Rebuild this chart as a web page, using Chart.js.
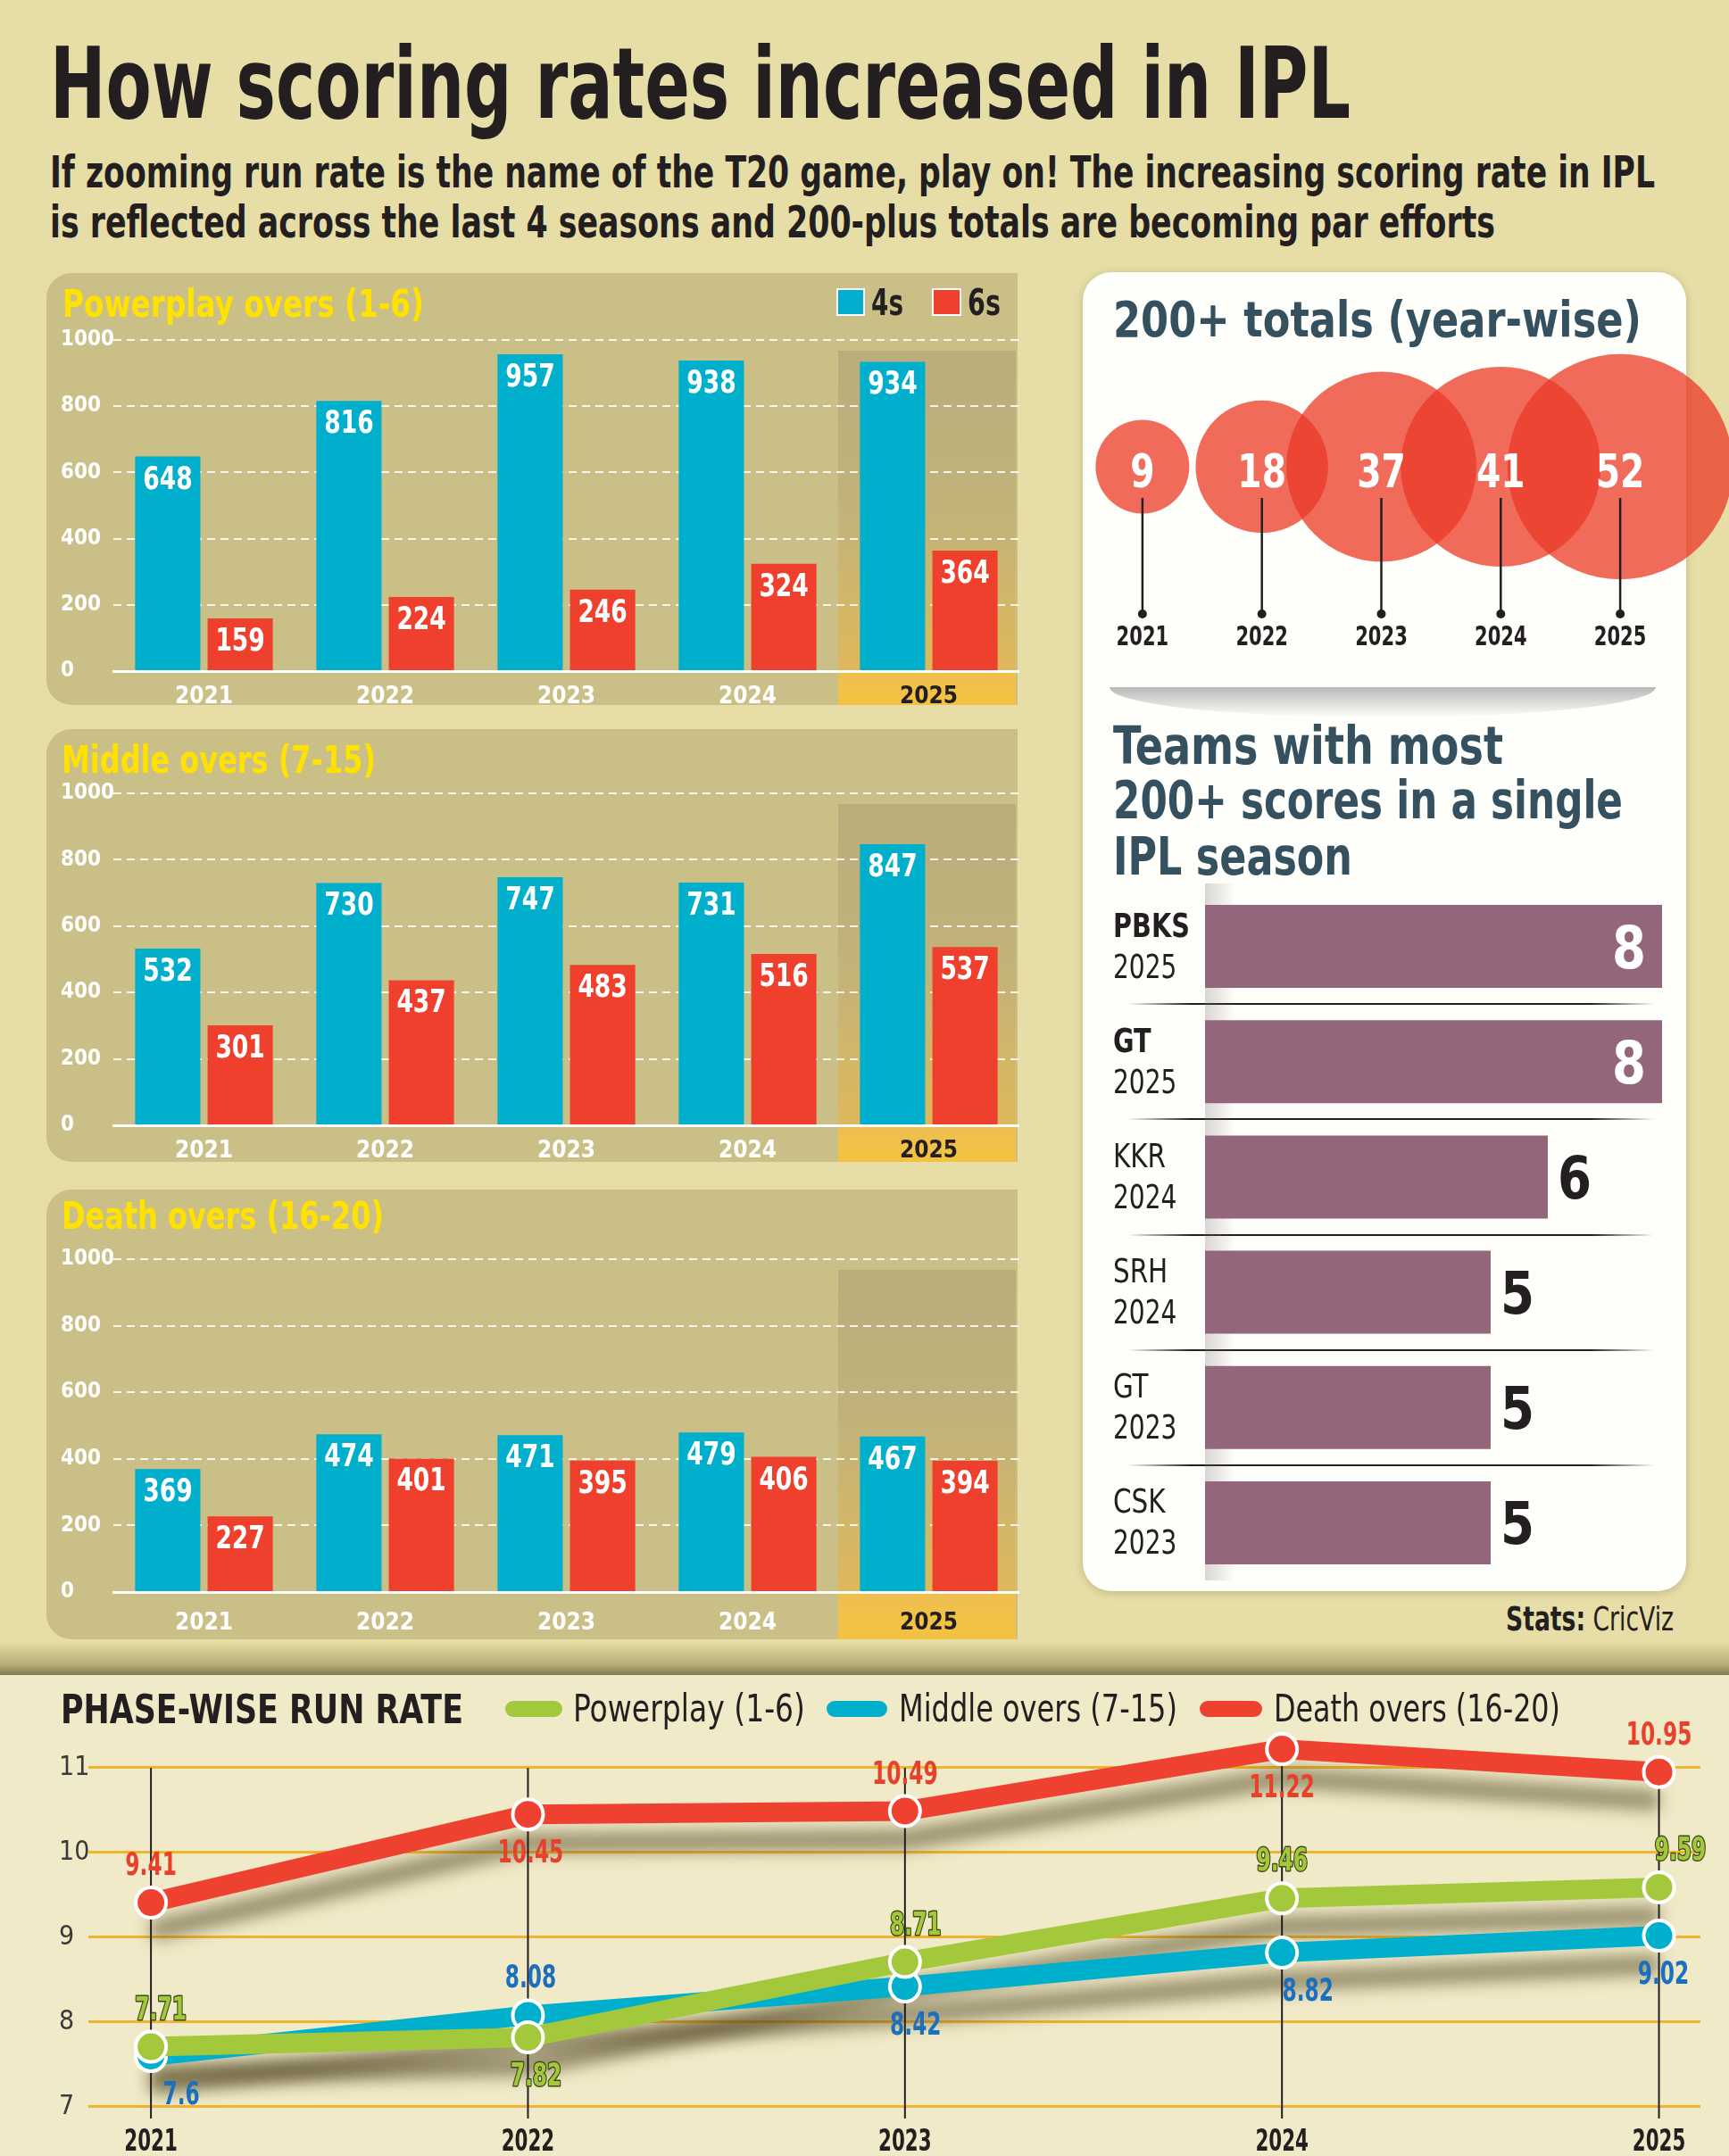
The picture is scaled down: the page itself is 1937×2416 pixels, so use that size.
<!DOCTYPE html>
<html>
<head>
<meta charset="utf-8">
<script src="https://cdn.jsdelivr.net/npm/chart.js@4.4.1/dist/chart.umd.min.js"></script>
<style>
body { margin:0; width:1937px; height:2416px; overflow:hidden; position:relative; background:#e6dea6;
  font-family:'Liberation Sans Narrow','DejaVu Sans Condensed','Roboto Condensed','Liberation Sans',sans-serif; }
.box { position:absolute; }
.txt { position:absolute; white-space:nowrap; line-height:1; width:max-content; }
canvas { position:absolute; }
.panel { position:absolute; left:52px; width:1088px; background:#cabf87; border-radius:28px 0 0 28px; }
.pill { position:absolute; height:18px; border-radius:9px; }
</style>
</head>
<body>
<div class="panel" style="top:306px;height:484px"></div>
<div class="panel" style="top:817px;height:485px"></div>
<div class="panel" style="top:1333px;height:504px"></div>
<div class="box" style="left:937px;top:323px;width:28px;height:27px;background:#00afcb;border:2px solid #fff"></div>
<div class="box" style="left:1044px;top:323px;width:29px;height:27px;background:#ee402c;border:2px solid #fff"></div>
<div class="box" style="left:1213px;top:305px;width:676px;height:1478px;background:#fefefb;border-radius:32px;box-shadow:0 2px 10px rgba(80,70,30,0.25)"></div>
<div class="box" style="left:1243px;top:770px;width:612px;height:34px;background:linear-gradient(#b9b9b9,rgba(255,255,255,0));border-radius:0 0 50% 50% / 0 0 100% 100%"></div>
<div class="box" style="left:0;top:1840px;width:1937px;height:37px;background:linear-gradient(rgba(140,128,80,0),rgba(140,128,80,0.55) 70%,rgba(115,104,62,0.85))"></div>
<div class="box" style="left:0;top:1877px;width:1937px;height:539px;background:#f1eac8"></div>
<div class="pill" style="left:566px;top:1906px;width:64px;background:#a4c83c"></div>
<div class="pill" style="left:926px;top:1906px;width:68px;background:#00afcb"></div>
<div class="pill" style="left:1344px;top:1906px;width:70px;background:#ee4130"></div>

<canvas id="pp"></canvas>
<canvas id="mid"></canvas>
<canvas id="death"></canvas>
<canvas id="bubble"></canvas>
<canvas id="teams"></canvas>
<canvas id="rate"></canvas>

<script>
var FONT = "'Liberation Sans Narrow','DejaVu Sans Condensed','Roboto Condensed','Liberation Sans',sans-serif";
Chart.defaults.font.family = FONT;

// ---- data ----
var years = ['2021', '2022', '2023', '2024', '2025'];
var ppFours = [648, 816, 957, 938, 934];
var ppSixes = [159, 224, 246, 324, 364];
var midFours = [532, 730, 747, 731, 847];
var midSixes = [301, 437, 483, 516, 537];
var deathFours = [369, 474, 471, 479, 467];
var deathSixes = [227, 401, 395, 406, 394];

var totals200 = [9, 18, 37, 41, 52];

var teamNames = ['PBKS', 'GT', 'KKR', 'SRH', 'GT', 'CSK'];
var teamSeasons = ['2025', '2025', '2024', '2024', '2023', '2023'];
var teamCounts = [8, 8, 6, 5, 5, 5];

var rateYears = [2021, 2022, 2023, 2024, 2025];
var rateTicks = [7, 8, 9, 10, 11];
var rrPowerplay = [7.71, 7.82, 8.71, 9.46, 9.59];
var rrMiddle = [7.6, 8.08, 8.42, 8.82, 9.02];
var rrDeath = [9.41, 10.45, 10.49, 11.22, 10.95];

var BLUE = '#00afcb', RED = '#ee402c', GREEN = '#a4c83c', PURPLE = '#93667c', INK = '#231f20';

// ---- html text, placed by baseline and stretched to the measured width ----
function placeText(html, x, baseline, width, css) {
    var el = document.createElement('div');
    el.className = 'txt';
    el.innerHTML = html;
    Object.assign(el.style, css);
    el.style.left = x + 'px';
    el.style.top = '0px';
    document.body.appendChild(el);
    var m = document.createElement('span');
    m.style.cssText = 'display:inline-block;width:0;height:0;vertical-align:baseline';
    el.appendChild(m);
    var base = m.getBoundingClientRect().bottom - el.getBoundingClientRect().top;
    el.removeChild(m);
    el.style.top = (baseline - base) + 'px';
    if (width) {
        var w = el.getBoundingClientRect().width;
        el.style.transformOrigin = '0 0';
        el.style.transform = 'scaleX(' + (width / w) + ')';
    }
    return el;
}
function bold(size, color) { return {fontSize: size + 'px', fontWeight: '700', color: color || INK}; }

// canvas text squeezed horizontally, to get close to the narrow print face
function drawC(ctx, text, x, y, sx, outline) {
    ctx.save();
    ctx.translate(x, y);
    ctx.scale(sx, 1);
    if (outline) ctx.strokeText(text, 0, 0);
    ctx.fillText(text, 0, 0);
    ctx.restore();
}

// ---- bar panels ----
var highlight2025 = {
    id: 'highlight2025',
    beforeDraw: function(chart) {
        var x = chart.scales.x, y = chart.scales.y, ctx = chart.ctx;
        var w = x.width / years.length;
        var left = x.getPixelForValue(years.length - 1) - w / 2;
        var top = y.getPixelForValue(1000) + 12, base = chart.chartArea.bottom;
        ctx.save();
        var g = ctx.createLinearGradient(0, top, 0, base);
        g.addColorStop(0, '#b9ad7c');
        g.addColorStop(0.5, '#c2b37a');
        g.addColorStop(1, '#dfb85a');
        ctx.fillStyle = g;
        ctx.fillRect(left, top, w - 4, base - top);
        var g2 = ctx.createLinearGradient(0, base, 0, chart.height);
        g2.addColorStop(0, '#eebf52');
        g2.addColorStop(1, '#f4c240');
        ctx.fillStyle = g2;
        ctx.fillRect(left, base, w - 4, chart.height - base);
        ctx.restore();
    }
};

var barValueLabels = {
    id: 'barValueLabels',
    afterDatasetsDraw: function(chart) {
        var ctx = chart.ctx;
        ctx.save();
        ctx.font = '700 36px ' + FONT;
        ctx.fillStyle = '#fff';
        ctx.textAlign = 'center';
        ctx.textBaseline = 'alphabetic';
        chart.data.datasets.forEach(function(ds, di) {
            chart.getDatasetMeta(di).data.forEach(function(bar, i) {
                drawC(ctx, String(ds.data[i]), bar.x, bar.y + 36, 0.82);
            });
        });
        ctx.restore();
    }
};

function barPanel(id, fours, sixes, top, gridTop, zeroY, bottom, tickPad) {
    var cv = document.getElementById(id);
    cv.width = 1090;
    cv.height = bottom - top;
    cv.style.left = '52px';
    cv.style.top = top + 'px';
    new Chart(cv, {
        type: 'bar',
        data: {
            labels: years,
            datasets: [
                {label: '4s', data: fours, backgroundColor: BLUE, categoryPercentage: 0.8, barPercentage: 0.9},
                {label: '6s', data: sixes, backgroundColor: RED, categoryPercentage: 0.8, barPercentage: 0.9}
            ]
        },
        options: {
            responsive: false,
            animation: false,
            events: [],
            layout: {autoPadding: false, padding: {left: 16, right: 0, top: gridTop - top, bottom: 0}},
            scales: {
                x: {
                    grid: {display: false},
                    border: {display: true, color: '#fff', width: 3},
                    ticks: {
                        color: function(c) { return c.index === years.length - 1 ? INK : '#fff'; },
                        font: {size: 26, weight: 'bold'},
                        padding: tickPad
                    },
                    afterFit: function(s) { s.height = bottom - zeroY; }
                },
                y: {
                    min: 0, max: 1000,
                    ticks: {stepSize: 200, color: '#fff', font: {size: 24, weight: 'bold'}, crossAlign: 'far', padding: 4,
                            callback: function(v) { return String(v); }},
                    grid: {color: 'rgba(255,255,255,0.85)', lineWidth: 2, drawTicks: false},
                    border: {display: false, dash: [9, 6]},
                    afterFit: function(s) { s.width = 59; }
                }
            },
            plugins: {legend: {display: false}, tooltip: {enabled: false}}
        },
        plugins: [highlight2025, barValueLabels]
    });
}

barPanel('pp', ppFours, ppSixes, 306, 381, 752, 790, 6);
barPanel('mid', midFours, midSixes, 817, 889, 1261, 1302, 6);
barPanel('death', deathFours, deathSixes, 1333, 1411, 1784, 1837, 12);

// ---- 200+ totals bubbles ----
var bubbleDecor = {
    id: 'bubbleDecor',
    afterDatasetsDraw: function(chart) {
        var ctx = chart.ctx, x = chart.scales.x, cy = chart.scales.y.getPixelForValue(0);
        ctx.save();
        ctx.textAlign = 'center';
        ctx.textBaseline = 'alphabetic';
        totals200.forEach(function(v, i) {
            var px = x.getPixelForValue(i);
            ctx.fillStyle = '#fff';
            ctx.font = '700 52px ' + FONT;
            drawC(ctx, String(v), px, cy + 23, 0.84);
            ctx.strokeStyle = INK;
            ctx.lineWidth = 2.5;
            ctx.beginPath();
            ctx.moveTo(px, cy + 35);
            ctx.lineTo(px, cy + 165);
            ctx.stroke();
            ctx.fillStyle = INK;
            ctx.beginPath();
            ctx.arc(px, cy + 165, 5, 0, Math.PI * 2);
            ctx.fill();
            ctx.font = '700 30px ' + FONT;
            drawC(ctx, years[i], px, cy + 200, 0.78);
        });
        ctx.restore();
    }
};

var cvB = document.getElementById('bubble');
cvB.width = 724; cvB.height = 400;
cvB.style.left = '1213px'; cvB.style.top = '380px';
new Chart(cvB, {
    type: 'bubble',
    data: {
        labels: years,
        datasets: [{
            data: totals200.map(function(v, i) { return {x: years[i], y: 0, r: 17.5 * Math.sqrt(v)}; }),
            backgroundColor: 'rgba(236,58,38,0.75)',
            borderWidth: 0,
            clip: false
        }]
    },
    options: {
        responsive: false,
        animation: false,
        events: [],
        layout: {autoPadding: false, padding: {left: 0, right: 55, top: 30, bottom: 144}},
        scales: {
            x: {type: 'category', display: false, offset: true},
            y: {display: false, min: -1, max: 1}
        },
        plugins: {legend: {display: false}, tooltip: {enabled: false}}
    },
    plugins: [bubbleDecor]
});

// ---- teams with most 200+ scores ----
var maxCount = Math.max.apply(null, teamCounts);
var teamDecor = {
    id: 'teamDecor',
    beforeDatasetsDraw: function(chart) {
        var ctx = chart.ctx, y = chart.scales.y;
        ctx.save();
        for (var i = 0; i < teamNames.length - 1; i++) {
            var py = Math.round((y.getPixelForValue(i) + y.getPixelForValue(i + 1)) / 2);
            var g = ctx.createLinearGradient(50, 0, 640, 0);
            g.addColorStop(0, 'rgba(35,31,32,0)');
            g.addColorStop(0.12, 'rgba(35,31,32,1)');
            g.addColorStop(0.88, 'rgba(35,31,32,1)');
            g.addColorStop(1, 'rgba(35,31,32,0)');
            ctx.strokeStyle = g;
            ctx.lineWidth = 2;
            ctx.beginPath();
            ctx.moveTo(50, py);
            ctx.lineTo(640, py);
            ctx.stroke();
        }
        // soft fold shading at the bar roots
        var fg = ctx.createLinearGradient(chart.chartArea.left, 0, chart.chartArea.left + 34, 0);
        fg.addColorStop(0, 'rgba(120,110,110,0.28)');
        fg.addColorStop(1, 'rgba(120,110,110,0)');
        ctx.fillStyle = fg;
        ctx.fillRect(chart.chartArea.left, chart.chartArea.top - 6, 34, chart.chartArea.bottom - chart.chartArea.top + 6);
        ctx.restore();
    },
    afterDatasetsDraw: function(chart) {
        var ctx = chart.ctx, meta = chart.getDatasetMeta(0);
        ctx.save();
        ctx.textBaseline = 'alphabetic';
        meta.data.forEach(function(bar, i) {
            var top = teamCounts[i] === maxCount;
            ctx.fillStyle = INK;
            ctx.textAlign = 'left';
            ctx.font = (top ? '700 ' : '400 ') + '38px ' + FONT;
            drawC(ctx, teamNames[i], 34, bar.y - 11, top ? 0.84 : 0.86);
            ctx.font = '400 38px ' + FONT;
            drawC(ctx, teamSeasons[i], 34, bar.y + 35, 0.82);
            ctx.font = '700 66px ' + FONT;
            if (top) {
                ctx.fillStyle = '#fff';
                ctx.textAlign = 'right';
                drawC(ctx, String(teamCounts[i]), bar.x - 18, bar.y + 24, 0.92);
            } else {
                ctx.fillStyle = INK;
                ctx.textAlign = 'left';
                drawC(ctx, String(teamCounts[i]), bar.x + 11, bar.y + 24, 0.92);
            }
        });
        ctx.restore();
    }
};

var cvT = document.getElementById('teams');
cvT.width = 675; cvT.height = 790;
cvT.style.left = '1213px'; cvT.style.top = '990px';
new Chart(cvT, {
    type: 'bar',
    data: {
        labels: teamNames.map(function(n, i) { return n + ' ' + teamSeasons[i]; }),
        datasets: [{data: teamCounts, backgroundColor: PURPLE, barPercentage: 0.72, categoryPercentage: 1}]
    },
    options: {
        indexAxis: 'y',
        responsive: false,
        animation: false,
        events: [],
        layout: {autoPadding: false, padding: {left: 137, right: 26, top: 6, bottom: 9}},
        scales: {
            x: {display: false, min: 0, max: maxCount},
            y: {display: false}
        },
        plugins: {legend: {display: false}, tooltip: {enabled: false}}
    },
    plugins: [teamDecor]
});

// ---- phase-wise run rate ----
var rateLabelSide = [
    [-1, 1, -1, -1, -1],   // powerplay
    [1, -1, 1, 1, 1],      // middle
    [-1, 1, -1, 1, -1]     // death
];
var rateLabelShift = [
    [11, 9, 12, 0, 24],
    [34, 3, 12, 29, 5],
    [0, 3, 0, 0, 0]
];
var rateLabelColor = [GREEN, '#1c6fbf', '#e8412b'];

var rateBackdrop = {
    id: 'rateBackdrop',
    beforeDatasetsDraw: function(chart) {
        var ctx = chart.ctx, xs = chart.scales.x, ys = chart.scales.y;
        ctx.save();
        // blurred drop shadow under each line
        chart.data.datasets.forEach(function(ds, di) {
            var pts = chart.getDatasetMeta(di).data;
            ctx.save();
            ctx.translate(0, -10000);
            ctx.shadowColor = 'rgba(75,64,28,0.55)';
            ctx.shadowBlur = 18;
            ctx.shadowOffsetY = 10032;
            ctx.strokeStyle = '#000';
            ctx.lineWidth = 22;
            ctx.beginPath();
            pts.forEach(function(p, i) { if (i) ctx.lineTo(p.x, p.y); else ctx.moveTo(p.x, p.y); });
            ctx.stroke();
            ctx.restore();
        });
        // year guide lines
        ctx.strokeStyle = INK;
        ctx.lineWidth = 2;
        rateYears.forEach(function(yr, i) {
            var hi = Math.max(11, rrPowerplay[i], rrMiddle[i], rrDeath[i]);
            var px = xs.getPixelForValue(yr);
            ctx.beginPath();
            ctx.moveTo(px, ys.getPixelForValue(hi));
            ctx.lineTo(px, chart.chartArea.bottom);
            ctx.stroke();
        });
        ctx.restore();
    },
    afterDatasetsDraw: function(chart) {
        var ctx = chart.ctx, xs = chart.scales.x;
        ctx.save();
        ctx.font = '700 35px ' + FONT;
        ctx.textAlign = 'center';
        ctx.textBaseline = 'middle';
        ctx.lineJoin = 'round';
        chart.data.datasets.forEach(function(ds, di) {
            chart.getDatasetMeta(di).data.forEach(function(p, i) {
                var side = rateLabelSide[di][i];
                var lx = p.x + rateLabelShift[di][i], ly = p.y + (side < 0 ? -40 : 45);
                ctx.fillStyle = rateLabelColor[di];
                ctx.strokeStyle = '#3d4b14';
                ctx.lineWidth = 3;
                drawC(ctx, String(ds.data[i].y), lx, ly, 0.74, di === 0);
            });
        });
        // year labels under the axis
        ctx.fillStyle = INK;
        ctx.font = '700 34px ' + FONT;
        ctx.textBaseline = 'alphabetic';
        rateYears.forEach(function(yr) {
            drawC(ctx, String(yr), xs.getPixelForValue(yr), chart.height - 6, 0.7);
        });
        ctx.restore();
    }
};

function rateSeries(label, values, color) {
    return {
        label: label,
        data: values.map(function(v, i) { return {x: rateYears[i], y: v}; }),
        borderColor: color,
        backgroundColor: color,
        borderWidth: 22,
        pointRadius: 17,
        pointBorderWidth: 4,
        pointBorderColor: '#fff',
        pointBackgroundColor: color,
        tension: 0,
        clip: false
    };
}

var cvR = document.getElementById('rate');
cvR.width = 1937; cvR.height = 539;
cvR.style.left = '0px'; cvR.style.top = '1877px';
new Chart(cvR, {
    type: 'line',
    data: {
        datasets: [
            rateSeries('Powerplay (1-6)', rrPowerplay, GREEN),
            rateSeries('Middle overs (7-15)', rrMiddle, BLUE),
            rateSeries('Death overs (16-20)', rrDeath, '#ee4130')
        ]
    },
    options: {
        responsive: false,
        animation: false,
        events: [],
        layout: {autoPadding: false, padding: {left: 66, right: 32, top: 73, bottom: 0}},
        scales: {
            x: {
                type: 'linear', min: 2020.834, max: 2025.11,
                afterBuildTicks: function(s) { s.ticks = rateYears.map(function(v) { return {value: v}; }); },
                ticks: {display: false},
                grid: {display: false},
                border: {display: false},
                afterFit: function(s) { s.height = 42; }
            },
            y: {
                min: 6.863, max: 11.326,
                afterBuildTicks: function(s) { s.ticks = rateTicks.map(function(v) { return {value: v}; }); },
                ticks: {color: '#3a3a3a', font: {size: 30}, crossAlign: 'far', padding: 0},
                grid: {color: '#f2b42e', lineWidth: 3, drawTicks: false},
                border: {display: false},
                afterFit: function(s) { s.width = 33; }
            }
        },
        plugins: {legend: {display: false}, tooltip: {enabled: false}}
    },
    plugins: [rateBackdrop]
});

// ---- text ----
placeText('How scoring rates increased in IPL', 56, 132, 1457, bold(110));
placeText('If zooming run rate is the name of the T20 game, play on! The increasing scoring rate in IPL', 56, 210, 1798, bold(50));
placeText('is reflected across the last 4 seasons and 200-plus totals are becoming par efforts', 56, 266, 1619, bold(50));
placeText('Powerplay overs (1-6)', 70, 355, 405, bold(42, '#ffe200'));
placeText('Middle overs (7-15)', 69, 866, 352, bold(42, '#ffe200'));
placeText('Death overs (16-20)', 69, 1377, 361, bold(42, '#ffe200'));
placeText('4s', 976, 353, 36, bold(40));
placeText('6s', 1084, 353, 37, bold(40));
placeText('200+ totals (year-wise)', 1247, 377, 592, bold(56, '#35505f'));
placeText('Teams with most', 1247, 856, 437, bold(58, '#35505f'));
placeText('200+ scores in a single', 1247, 917, 571, bold(58, '#35505f'));
placeText('IPL season', 1247, 980, 268, bold(58, '#35505f'));
placeText('<b>Stats:</b> CricViz', 1687, 1827, 188, {fontSize: '38px', color: INK});
placeText('PHASE-WISE RUN RATE', 68, 1931, 451, bold(44));
placeText('Powerplay (1-6)', 642, 1929, 260, {fontSize: '43px', color: INK});
placeText('Middle overs (7-15)', 1007, 1929, 312, {fontSize: '43px', color: INK});
placeText('Death overs (16-20)', 1427, 1929, 321, {fontSize: '43px', color: INK});
</script>
</body>
</html>
